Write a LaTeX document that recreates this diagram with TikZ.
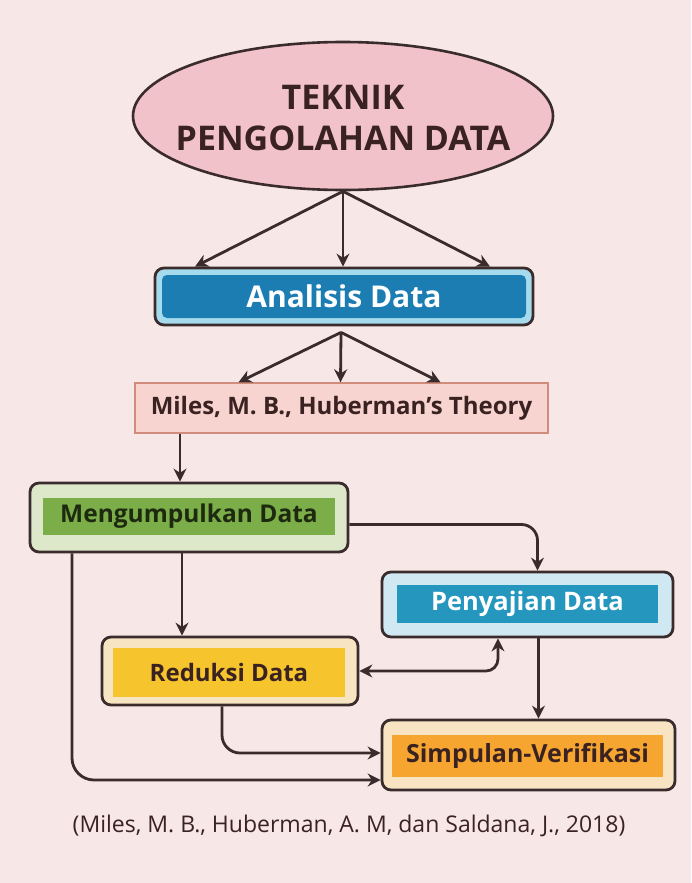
\documentclass[tikz,border=0pt]{standalone}
\usepackage{fontspec}
\setmainfont{Open Sans}
\usetikzlibrary{shapes.geometric,arrows.meta,calc}
\definecolor{bg}{HTML}{F8E7E7}
\definecolor{dk}{HTML}{3A2C2C}
\definecolor{ellfill}{HTML}{F2C2CA}
\definecolor{anaout}{HTML}{A6DBEE}
\definecolor{anain}{HTML}{1C7DB3}
\definecolor{milfill}{HTML}{F7D4CF}
\definecolor{milline}{HTML}{D28C7C}
\definecolor{mengout}{HTML}{DDE7CA}
\definecolor{mengin}{HTML}{7BAE48}
\definecolor{penout}{HTML}{D0E8F2}
\definecolor{penin}{HTML}{2596BE}
\definecolor{redout}{HTML}{F7E4C2}
\definecolor{redin}{HTML}{F6C42C}
\definecolor{simout}{HTML}{F8E3C2}
\definecolor{simin}{HTML}{F6A531}
\definecolor{txtdk}{HTML}{3A2222}
\definecolor{txtgr}{HTML}{1E2A10}
\begin{document}
\begin{tikzpicture}[x=1pt,y=-1pt,
  outerbox/.style={draw=dk, line width=2.8pt, rounded corners=9pt, inner sep=0pt},
  innerbox/.style={draw=none, inner sep=0pt, font=\bfseries},
  arr/.style={draw=dk, line width=2.8pt, -{Stealth[length=13pt,width=13pt]}},
  arrb/.style={draw=dk, line width=2.8pt, {Stealth[length=13pt,width=13pt]}-{Stealth[length=13pt,width=13pt]}}
]
\fill[bg] (0,0) rectangle (691,883);
\useasboundingbox (0,0) rectangle (691,883);

% ellipse
\node[ellipse, draw=dk, line width=2.6pt, fill=ellfill, minimum width=420pt, minimum height=148pt, inner sep=0pt] (ell) at (343,116) {};
\node[align=center, text=txtdk, inner sep=0pt, font=\fontsize{34}{41}\selectfont\bfseries] (ellt) at (343,118) {TEKNIK\\PENGOLAHAN DATA};

% Analisis Data
\node[outerbox, fill=anaout, minimum width=378pt, minimum height=57pt] (anaO) at (344,296.5) {};
\node[innerbox, fill=anain, rounded corners=5pt, minimum width=364pt, minimum height=43pt, text=white,
      font=\fontsize{30}{34}\selectfont\bfseries] (ana) at (344,296.5) {Analisis Data};

% Miles box
\node[draw=milline, line width=1.4pt, fill=milfill, minimum width=413pt, minimum height=50pt, inner sep=0pt,
      text=txtdk, font=\fontsize{24}{28}\selectfont\bfseries] (mil) at (341.5,408) {Miles, M. B., Huberman’s Theory};

% Mengumpulkan Data
\node[outerbox, fill=mengout, minimum width=318pt, minimum height=69pt] (mengO) at (189,517.5) {};
\node[innerbox, fill=mengin, minimum width=292pt, minimum height=37pt, text=txtgr,
      font=\fontsize{24.5}{28}\selectfont\bfseries] (meng) at (189,516.5) {Mengumpulkan Data};

% Penyajian Data
\node[outerbox, fill=penout, minimum width=291pt, minimum height=65pt] (penO) at (527.5,604.5) {};
\node[innerbox, fill=penin, minimum width=261pt, minimum height=38pt, text=white,
      font=\fontsize{25.5}{29}\selectfont\bfseries] (pen) at (527.5,604) {Penyajian Data};

% Reduksi Data
\node[outerbox, fill=redout, minimum width=256pt, minimum height=68pt] (redO) at (230,671) {};
\node[innerbox, fill=redin, minimum width=232pt, minimum height=49pt, text=txtdk,
      font=\fontsize{24}{28}\selectfont\bfseries] (red) at (229,672.5) {Reduksi Data};

% Simpulan-Verifikasi
\node[outerbox, fill=simout, minimum width=293pt, minimum height=70pt] (simO) at (528.5,755) {};
\node[innerbox, fill=simin, minimum width=271pt, minimum height=42pt, text=txtdk,
      font=\fontsize{25}{29}\selectfont\bfseries] (sim) at (527.5,756) {Simpulan-Verifikasi};

% caption
\node[text=txtdk, font=\fontsize{23}{26}\selectfont, inner sep=0pt] (cap) at (349,826) {(Miles, M. B., Huberman, A. M, dan Saldana, J., 2018)};

% arrows ellipse -> Analisis
\draw[arr] (ell.south) -- ([xshift=-149pt]anaO.north);
\draw[arr] (ell.south) -- ([xshift=-1pt]anaO.north);
\draw[arr] (ell.south) -- ([xshift=146pt]anaO.north);

% arrows Analisis -> Miles
\coordinate (aBot) at ([xshift=-3pt,yshift=-6pt]anaO.south);
\draw[arr] (aBot) -- ([xshift=-103pt]mil.north);
\draw[arr] (aBot) -- ([xshift=-1pt]mil.north);
\draw[arr] (aBot) -- ([xshift=99pt]mil.north);

% Miles -> Mengumpulkan
\coordinate (m1) at ([xshift=-9pt]mengO.north);
\draw[arr] (m1 |- mil.south) -- (m1);

% Mengumpulkan -> Penyajian
\coordinate (p1) at ([xshift=10pt]penO.north);
\draw[arr, rounded corners=16pt] ([yshift=-7pt]mengO.east) -| (p1);

% Mengumpulkan -> Reduksi
\coordinate (r1) at ([xshift=-48pt]redO.north);
\draw[arr] (r1 |- mengO.south) -- (r1);

% Reduksi <-> Penyajian
\coordinate (p2) at ([xshift=-29.5pt]penO.south);
\draw[arrb, rounded corners=12pt] (redO.east) -| (p2);

% Penyajian -> Simpulan
\coordinate (s1) at ([xshift=10pt]simO.north);
\draw[arr] (s1 |- penO.south) -- (s1);

% Reduksi -> Simpulan
\coordinate (r2) at ([xshift=-8pt]redO.south);
\draw[arr, rounded corners=18pt] (r2) |- ([yshift=2pt]simO.west);

% Mengumpulkan -> Simpulan
\coordinate (m2) at ([xshift=-117pt]mengO.south);
\draw[arr, rounded corners=22pt] (m2) |- ([yshift=-25pt]simO.west);
\end{tikzpicture}
\end{document}
